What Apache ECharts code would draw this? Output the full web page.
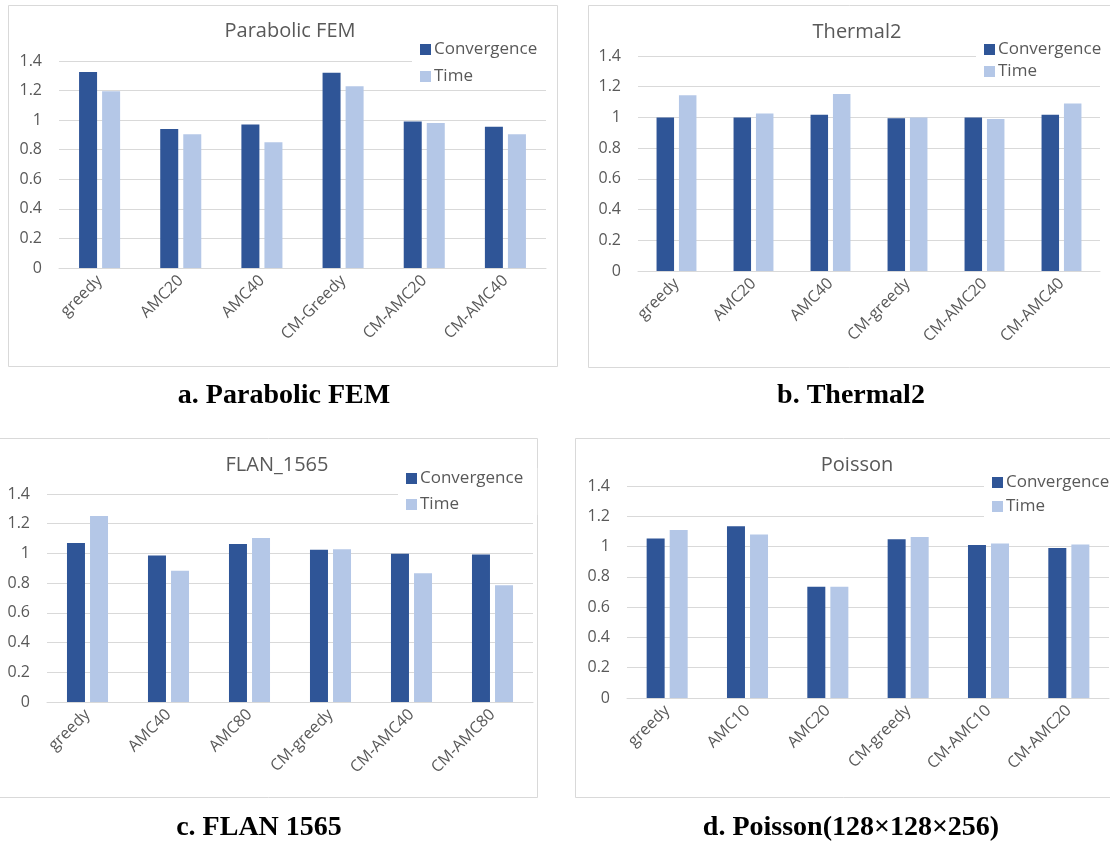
<!DOCTYPE html>
<html>
<head>
<meta charset="utf-8">
<script src="https://cdn.jsdelivr.net/npm/echarts@6/dist/echarts.min.js"></script>
<style>
html,body{margin:0;padding:0;background:#fff;}
#chart{width:1110px;height:843px;}
</style>
</head>
<body>
<div id="chart"></div>
<script>
// ---- Data ----
const seriesNames = ['Convergence', 'Time'];
const yTicks = [0, 0.2, 0.4, 0.6, 0.8, 1, 1.2, 1.4];

const titleA = 'Parabolic FEM';
const catsA = ['greedy', 'AMC20', 'AMC40', 'CM-Greedy', 'CM-AMC20', 'CM-AMC40'];
const convA = [1.325, 0.94, 0.97, 1.32, 0.99, 0.955];
const timeA = [1.195, 0.905, 0.85, 1.23, 0.98, 0.905];

const titleB = 'Thermal2';
const catsB = ['greedy', 'AMC20', 'AMC40', 'CM-greedy', 'CM-AMC20', 'CM-AMC40'];
const convB = [1.0, 1.0, 1.017, 0.995, 1.0, 1.017];
const timeB = [1.145, 1.025, 1.153, 1.0, 0.99, 1.09];

const titleC = 'FLAN_1565';
const catsC = ['greedy', 'AMC40', 'AMC80', 'CM-greedy', 'CM-AMC40', 'CM-AMC80'];
const convC = [1.07, 0.986, 1.063, 1.025, 0.997, 0.992];
const timeC = [1.252, 0.883, 1.104, 1.028, 0.867, 0.786];

const titleD = 'Poisson';
const catsD = ['greedy', 'AMC10', 'AMC20', 'CM-greedy', 'CM-AMC10', 'CM-AMC20'];
const convD = [1.053, 1.135, 0.734, 1.049, 1.01, 0.99];
const timeD = [1.11, 1.08, 0.734, 1.063, 1.021, 1.014];

const captions = ['a. Parabolic FEM', 'b. Thermal2', 'c. FLAN 1565', 'd. Poisson(128\u00d7128\u00d7256)'];

// ---- Layout / style ----
const CONV = '#2F5597', TIME = '#B4C7E7', GRIDC = '#D9D9D9', TXT = '#595959';
const FONT = '"Open Sans", "Liberation Sans", sans-serif';

const panels = [
  {title: titleA, cats: catsA, conv: convA, time: timeA,
   grid: {left: 59, top: 61, width: 487, height: 207},
   titlePos: [285, 16], legend: {left: 412, top: 39, gap: 10},
   box: [8, 5, 549, 361], bw: 18, cap: [284, 396]},
  {title: titleB, cats: catsB, conv: convB, time: timeB,
   grid: {left: 638, top: 56, width: 462, height: 215},
   titlePos: [852, 17], legend: {left: 976, top: 39, gap: 5},
   box: [588, 5, 530, 362], bw: 17.5, cap: [851, 396]},
  {title: titleC, cats: catsC, conv: convC, time: timeC,
   grid: {left: 47, top: 494, width: 486, height: 208},
   titlePos: [272, 450], legend: {left: 398, top: 468, gap: 9},
   box: [-1, 438, 538, 359], bw: 18, cap: [259, 828]},
  {title: titleD, cats: catsD, conv: convD, time: timeD,
   grid: {left: 627, top: 486, width: 482, height: 212},
   titlePos: [852, 450], legend: {left: 984, top: 472, gap: 7},
   box: [575, 438, 540, 359], bw: 18, cap: [851, 828]}
];

const option = {
  animation: false,
  backgroundColor: '#fff',
  title: [], legend: [], grid: [], xAxis: [], yAxis: [], series: [], graphic: []
};

panels.forEach((p, i) => {
  option.title.push({
    text: p.title, left: p.titlePos[0], top: p.titlePos[1], textAlign: 'center',
    textStyle: {fontFamily: FONT, fontSize: 20, fontWeight: 'normal', color: TXT}
  });
  option.legend.push({
    data: seriesNames, orient: 'vertical', left: p.legend.left, top: p.legend.top,
    itemGap: p.legend.gap, itemWidth: 11, itemHeight: 11, icon: 'rect',
    padding: [2, 14, 2, 8], backgroundColor: '#fff', itemStyle: {borderWidth: 0},
    textStyle: {fontFamily: FONT, fontSize: 17, color: TXT, padding: [0, 0, 0, -2]}
  });
  option.grid.push(Object.assign({containLabel: false}, p.grid));
  option.xAxis.push({
    type: 'category', gridIndex: i, data: p.cats,
    axisLine: {lineStyle: {color: GRIDC, width: 1}}, axisTick: {show: false},
    axisLabel: {rotate: 45, fontFamily: FONT, fontSize: 16, color: TXT, margin: 10, interval: 0}
  });
  option.yAxis.push({
    type: 'value', gridIndex: i, min: yTicks[0], max: yTicks[yTicks.length - 1], interval: 0.2,
    axisLine: {show: false}, axisTick: {show: false},
    splitLine: {lineStyle: {color: GRIDC, width: 1}},
    axisLabel: {fontFamily: FONT, fontSize: 16, color: TXT, margin: 17,
      formatter: v => String(Math.round(v * 10) / 10)}
  });
  option.series.push({
    name: seriesNames[0], type: 'bar', xAxisIndex: i, yAxisIndex: i, data: p.conv,
    barWidth: p.bw, barGap: '28%', itemStyle: {color: CONV}
  });
  option.series.push({
    name: seriesNames[1], type: 'bar', xAxisIndex: i, yAxisIndex: i, data: p.time,
    barWidth: p.bw, barGap: '28%', itemStyle: {color: TIME}
  });
  option.graphic.push({
    type: 'rect', silent: true, z: -1,
    shape: {x: p.box[0] + 0.5, y: p.box[1] + 0.5, width: p.box[2], height: p.box[3]},
    style: {fill: 'none', stroke: GRIDC, lineWidth: 1}
  });
  option.graphic.push({
    type: 'text', silent: true, x: p.cap[0], y: p.cap[1],
    style: {text: captions[i], fontFamily: '"Liberation Serif", "Times New Roman", serif',
      fontWeight: 'bold', fontSize: 28, fill: '#000', align: 'center', verticalAlign: 'middle'}
  });
});

const chart = echarts.init(document.getElementById('chart'), null, {renderer: 'canvas'});
chart.setOption(option);
</script>
</body>
</html>
